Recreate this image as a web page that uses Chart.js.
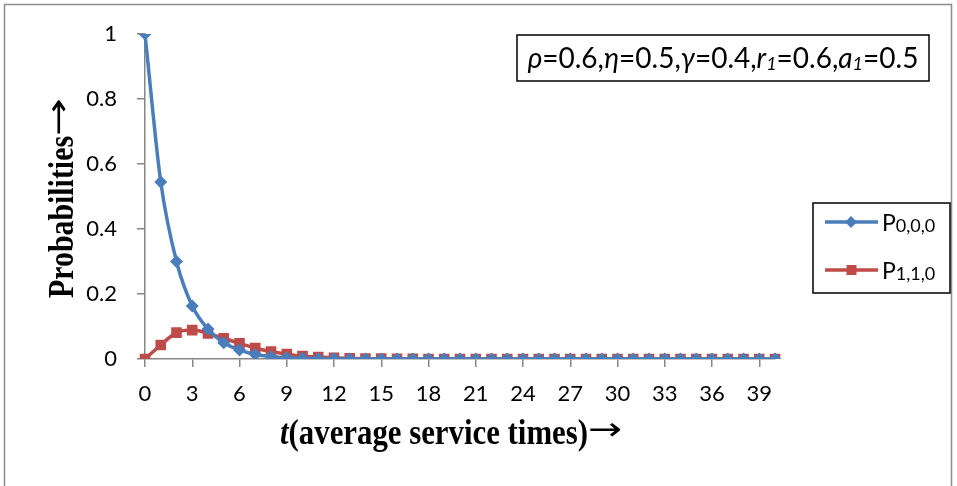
<!DOCTYPE html>
<html>
<head>
<meta charset="utf-8">
<script src="https://cdn.jsdelivr.net/npm/chart.js@4"></script>
<style>
  html, body { margin: 0; padding: 0; background: #fff; }
  #wrap { width: 957px; height: 486px; position: relative; }
</style>
</head>
<body>
<div id="wrap"><canvas id="c" width="957" height="486"></canvas></div>
<script>
const categories = ['0','1','2','3','4','5','6','7','8','9','10','11','12','13','14','15','16','17','18','19','20',
  '21','22','23','24','25','26','27','28','29','30','31','32','33','34','35','36','37','38','39','40'];
const p000 = [1, 0.545, 0.30, 0.163, 0.092, 0.05, 0.028, 0.014, 0.008, 0.004, 0.002, 0.001, 0.0005, 0.0002, 0.0001,
  0, 0, 0, 0, 0, 0, 0, 0, 0, 0, 0, 0, 0, 0, 0, 0, 0, 0, 0, 0, 0, 0, 0, 0, 0, 0];
const p110 = [0, 0.043, 0.081, 0.089, 0.079, 0.064, 0.048, 0.034, 0.023, 0.015, 0.009, 0.006, 0.004, 0.002, 0.001,
  0.001, 0.0005, 0.0003, 0.0002, 0.0001, 0, 0, 0, 0, 0, 0, 0, 0, 0, 0, 0, 0, 0, 0, 0, 0, 0, 0, 0, 0, 0];
const seriesNames = ['P0,0,0', 'P1,1,0'];
const yTicks = [0, 0.2, 0.4, 0.6, 0.8, 1];
const xTitle = '(average service times)';
const yTitle = 'Probabilities';
const ARROW = '→';

const BLUE = '#4A7EBB', RED = '#BE4B48', AXIS = '#868686';
const SERIF = '"Liberation Serif", "Times New Roman", serif';
const SANS = 'Lato, "Noto Sans", sans-serif';

function drawTitle(ctx, italicPart, text, textLen, arrowLen, cx) {
  const fs = 35;
  const fi = 'italic bold ' + fs + 'px ' + SERIF, fb = 'bold ' + fs + 'px ' + SERIF;
  ctx.font = fi; const tw = italicPart ? ctx.measureText(italicPart).width : 0;
  ctx.font = fb; const rw = ctx.measureText(text).width;
  const s = textLen / (tw + rw);
  const start = cx - (textLen + arrowLen) / 2;
  ctx.save();
  ctx.translate(start, 0);
  ctx.scale(s, 1);
  ctx.textBaseline = 'alphabetic';
  if (italicPart) { ctx.font = fi; ctx.fillText(italicPart, 0, 0); }
  ctx.font = fb; ctx.fillText(text, tw, 0);
  ctx.restore();
  ctx.save();
  ctx.font = '40px "DejaVu Sans", sans-serif';
  const aw = ctx.measureText(ARROW).width;
  ctx.translate(start + textLen, 0);
  ctx.scale(arrowLen / aw, 0.8);
  ctx.textBaseline = 'middle';
  ctx.fillText(ARROW, 0, -fs * 0.36 / 0.8);
  ctx.restore();
}

const decor = {
  id: 'decor',
  beforeDraw(chart) {
    const ctx = chart.ctx;
    ctx.save();
    ctx.strokeStyle = '#8c8c8c';
    ctx.lineWidth = 1.5;
    ctx.strokeRect(4.5, 4.5, 947, 520);
    ctx.restore();
  },
  afterDraw(chart) {
    const ctx = chart.ctx;
    ctx.save();
    ctx.strokeStyle = '#000';
    ctx.lineWidth = 1.5;
    ctx.strokeRect(517, 35, 412, 46);
    const segs = [
      {t:'ρ',i:1},{t:'=0.6,'},{t:'η',i:1},{t:'=0.5,'},{t:'γ',i:1},{t:'=0.4,'},
      {t:'r',i:1},{t:'1',i:1,s:1},{t:'=0.6,'},{t:'a',i:1},{t:'1',i:1,s:1},{t:'=0.5'}
    ];
    const fontFor = s => (s.i ? 'italic ' : '') + (s.s ? '18px ' : '28px ') + SANS;
    let w = 0;
    segs.forEach(s => { ctx.font = fontFor(s); w += ctx.measureText(s.t).width; });
    let x = 723 - w / 2;
    ctx.fillStyle = '#000';
    ctx.textBaseline = 'alphabetic';
    ctx.textAlign = 'left';
    segs.forEach(s => {
      ctx.font = fontFor(s);
      ctx.fillText(s.t, x, s.s ? 70 : 68);
      x += ctx.measureText(s.t).width;
    });

    ctx.strokeRect(813, 203, 137, 90);
    const ds = chart.data.datasets;
    const rows = [222, 270];
    ds.forEach((d, k) => {
      const y = rows[k];
      ctx.strokeStyle = d.borderColor;
      ctx.lineWidth = 3.5;
      ctx.beginPath(); ctx.moveTo(825, y); ctx.lineTo(878, y); ctx.stroke();
      ctx.fillStyle = d.borderColor;
      if (k === 0) {
        ctx.beginPath(); ctx.moveTo(851, y - 6); ctx.lineTo(857, y); ctx.lineTo(851, y + 6); ctx.lineTo(845, y); ctx.closePath(); ctx.fill();
      } else {
        ctx.fillRect(846.5, y - 5, 10, 10);
      }
      ctx.fillStyle = '#000';
      ctx.font = '23px ' + SANS;
      ctx.fillText('P', 882, y + 9);
      const pw = ctx.measureText('P').width;
      ctx.font = '18px ' + SANS;
      ctx.fillText(d.label.slice(1), 882 + pw, y + 10);
    });

    ctx.fillStyle = '#000';
    ctx.save();
    ctx.translate(0, 444);
    drawTitle(ctx, 't', xTitle, 308, 34, 451);
    ctx.restore();

    ctx.save();
    ctx.translate(73, 0);
    ctx.rotate(-Math.PI / 2);
    drawTitle(ctx, '', yTitle, 162, 38, -198);
    ctx.restore();
    ctx.restore();
  }
};

new Chart(document.getElementById('c'), {
  type: 'line',
  data: {
    labels: categories,
    datasets: [
      { label: seriesNames[0], data: p000, borderColor: BLUE, backgroundColor: BLUE, borderWidth: 3.5,
        pointStyle: 'rectRot', pointRadius: 6.5, pointBorderWidth: 0, cubicInterpolationMode: 'monotone', fill: false },
      { label: seriesNames[1], data: p110, borderColor: RED, backgroundColor: RED, borderWidth: 3.5,
        pointStyle: 'rect', pointRadius: 7.5, pointBorderWidth: 0, cubicInterpolationMode: 'monotone', fill: false }
    ]
  },
  options: {
    responsive: false,
    animation: false,
    devicePixelRatio: 1,
    layout: { padding: { left: 65, right: 182, top: 34, bottom: 0 } },
    plugins: { legend: { display: false }, tooltip: { enabled: false }, title: { display: false } },
    scales: {
      x: {
        type: 'category',
        offset: false,
        afterFit(s) { s.height = 127; },
        border: { display: true, color: AXIS, width: 1.5 },
        grid: { display: true, drawOnChartArea: false, drawTicks: true, tickLength: 8,
          tickColor: c => (c.index % 3 === 0 ? AXIS : 'rgba(0,0,0,0)'), lineWidth: 1.5 },
        ticks: { autoSkip: false, maxRotation: 0, padding: 14, color: '#000',
          font: { family: SANS, size: 22 },
          callback(v, i) { return i % 3 === 0 ? categories[i] : ''; } }
      },
      y: {
        min: 0, max: 1,
        afterFit(s) { s.width = 80; },
        afterBuildTicks(s) { s.ticks = yTicks.map(v => ({ value: v })); },
        border: { display: true, color: AXIS, width: 1.5 },
        grid: { display: true, drawOnChartArea: false, drawTicks: true, tickLength: 8, color: AXIS, lineWidth: 1.5 },
        ticks: { padding: 20, color: '#000', font: { family: SANS, size: 22 },
          callback(v) { return String(Math.round(v * 10) / 10); } }
      }
    }
  },
  plugins: [decor]
});
</script>
</body>
</html>
